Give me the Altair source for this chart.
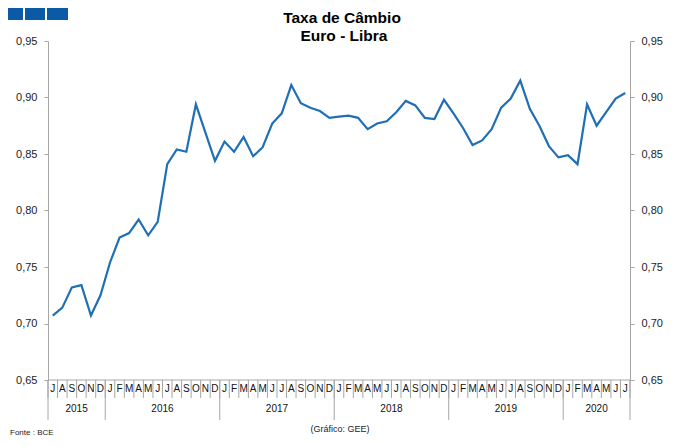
import altair as alt
import pandas as pd

# ---- data ----
months = ["J", "A", "S", "O", "N", "D"] + ["J", "F", "M", "A", "M", "J", "J", "A", "S", "O", "N", "D"] * 4 + ["J", "F", "M", "A", "M", "J", "J"]
values = [
    0.707, 0.714, 0.732, 0.734, 0.707, 0.725,
    0.754, 0.776, 0.780, 0.792, 0.778, 0.790, 0.841, 0.854, 0.852, 0.894, 0.869, 0.844,
    0.861, 0.852, 0.865, 0.848, 0.856, 0.877, 0.886, 0.911, 0.895, 0.891, 0.888, 0.882,
    0.883, 0.884, 0.882, 0.872, 0.877, 0.879, 0.887, 0.897, 0.893, 0.882, 0.881, 0.898,
    0.886, 0.873, 0.858, 0.862, 0.872, 0.891, 0.899, 0.915, 0.890, 0.875, 0.857, 0.847,
    0.849, 0.841, 0.894, 0.875, 0.887, 0.899, 0.904,
]
years = ["2015", "2016", "2017", "2018", "2019", "2020"]
year_months = [6, 12, 12, 12, 12, 7]
title_lines = ["Taxa de Câmbio", "Euro - Libra"]
y_ticks = [0.65, 0.70, 0.75, 0.80, 0.85, 0.90, 0.95]

N = len(values)
W, H = 582, 339
FONT = "Liberation Sans"
GRAY = "#a6a6a6"
LINE = "#1f6fb6"

df = pd.DataFrame({"pos": [i + 0.5 for i in range(N)], "value": values, "m": months})

bounds = [0]
for n in year_months:
    bounds.append(bounds[-1] + n)
df_years = pd.DataFrame({
    "year": years,
    "mid": [(bounds[k] + bounds[k + 1]) / 2 for k in range(len(years))],
})
df_ybounds = pd.DataFrame({"b": bounds})
df_mbounds = pd.DataFrame({"b": list(range(N + 1))})

xsc = alt.Scale(domain=[0, N], nice=False, zero=False)
ysc = alt.Scale(domain=[0.65, 0.95], nice=False, zero=False)
label_expr = "replace(format(datum.value, '.2f'), '.', ',')"

def yaxis(orient):
    return alt.Axis(orient=orient, values=y_ticks, labelExpr=label_expr, grid=False,
                    title=None, tickSize=4, tickColor=GRAY, domainColor=GRAY,
                    labelFont=FONT, labelFontSize=11, labelColor="#222222",
                    labelPadding=7)

line_left = alt.Chart(df).mark_line(color=LINE, strokeWidth=2.2).encode(
    x=alt.X("pos:Q", scale=xsc, axis=None),
    y=alt.Y("value:Q", scale=ysc, axis=yaxis("left")),
)
line_right = alt.Chart(df).mark_line(opacity=0).encode(
    x=alt.X("pos:Q", scale=xsc, axis=None),
    y=alt.Y("value:Q", scale=ysc, axis=yaxis("right")),
)

bottom_line = alt.Chart(df.head(1)).mark_rule(color=GRAY).encode(
    x=alt.value(0), x2=alt.value(W), y=alt.value(H)
)
month_rules = alt.Chart(df_mbounds).mark_rule(color=GRAY).encode(
    x=alt.X("b:Q", scale=xsc, axis=None), y=alt.value(H), y2=alt.value(H + 18)
)
year_rules = alt.Chart(df_ybounds).mark_rule(color=GRAY).encode(
    x=alt.X("b:Q", scale=xsc, axis=None), y=alt.value(H), y2=alt.value(H + 40)
)
month_text = alt.Chart(df).mark_text(font=FONT, fontSize=10, color="#111111", baseline="middle").encode(
    x=alt.X("pos:Q", scale=xsc, axis=None), y=alt.value(H + 9), text="m:N"
)
year_text = alt.Chart(df_years).mark_text(font=FONT, fontSize=10, color="#111111", baseline="middle").encode(
    x=alt.X("mid:Q", scale=xsc, axis=None), y=alt.value(H + 29), text="year:N"
)

title1 = alt.Chart(pd.DataFrame({"t": [title_lines[0]]})).mark_text(
    font=FONT, fontSize=15.5, fontWeight="bold", color="#000000", baseline="alphabetic"
).encode(x=alt.value(294), y=alt.value(-18), text="t:N")
title2 = alt.Chart(pd.DataFrame({"t": [title_lines[1]]})).mark_text(
    font=FONT, fontSize=15.5, fontWeight="bold", color="#000000", baseline="alphabetic"
).encode(x=alt.value(296), y=alt.value(0), text="t:N")

fonte = alt.Chart(pd.DataFrame({"t": ["Fonte : BCE"]})).mark_text(
    font=FONT, fontSize=8, color="#222222", align="left", baseline="middle"
).encode(x=alt.value(-38), y=alt.value(392), text="t:N")
grafico = alt.Chart(pd.DataFrame({"t": ["(Gráfico:  GEE)"]})).mark_text(
    font=FONT, fontSize=9, color="#222222", align="center", baseline="middle"
).encode(x=alt.value(292), y=alt.value(388), text="t:N")

logo_df = pd.DataFrame({"k": [0]})
logo = alt.Chart(logo_df).mark_rect(color="#0a5aa6").encode(
    x=alt.value(-45), x2=alt.value(-25), y=alt.value(-37), y2=alt.value(-21)
)
logo2 = alt.Chart(logo_df).mark_rect(color="#0a5aa6").encode(
    x=alt.value(-23), x2=alt.value(-3), y=alt.value(-37), y2=alt.value(-21)
)
logo3 = alt.Chart(logo_df).mark_rect(color="#0a5aa6").encode(
    x=alt.value(-1), x2=alt.value(20), y=alt.value(-37), y2=alt.value(-21)
)

chart = alt.layer(
    line_left, line_right, bottom_line, month_rules, year_rules, month_text, year_text,
    title1, title2, fonte, grafico, logo, logo2, logo3
).resolve_scale(y="independent").properties(
    width=W, height=H,
    autosize="none",
    padding={"left": 40, "top": 33, "right": 42, "bottom": 56},
).configure_view(stroke=None)

chart.save("out.html", embed_options={"renderer": "svg", "actions": False})
